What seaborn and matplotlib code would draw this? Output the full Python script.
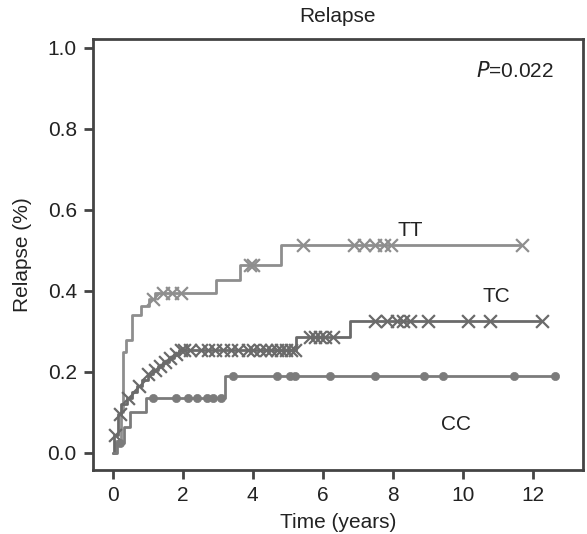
import numpy as np
import pandas as pd
import matplotlib
matplotlib.use('Agg')
import matplotlib.pyplot as plt
import seaborn as sns

sns.set_style('white')
plt.rcParams['font.family'] = ['Liberation Sans', 'DejaVu Sans']

# step curves (time in years, cumulative relapse)
tt_time = [0, 0.1, 0.25, 0.3, 0.39, 0.55, 0.8, 1.05, 1.2, 2.96, 3.63, 4.82, 11.7]
tt_val = [0, 0.03, 0.1, 0.25, 0.28, 0.34, 0.363, 0.38, 0.395, 0.427, 0.464, 0.514, 0.514]
tt_cens = [1.15, 1.43, 1.68, 1.96, 3.91, 4.0, 5.43, 6.9, 7.17, 7.5, 7.74, 7.94, 11.7]

tc_time = [0, 0.05, 0.15, 0.25, 0.4, 0.55, 0.7, 0.85, 1.0, 1.15, 1.3, 1.45, 1.6,
           1.75, 1.9, 5.24, 6.77, 12.26]
tc_val = [0, 0.045, 0.095, 0.12, 0.135, 0.15, 0.165, 0.18, 0.195, 0.205, 0.215,
          0.225, 0.235, 0.245, 0.255, 0.287, 0.325, 0.325]
tc_cens = [0.07, 0.2, 0.45, 0.75, 1.0, 1.2, 1.35, 1.5, 1.65, 1.8, 1.95, 2.05, 2.2,
           2.53, 2.71, 2.91, 3.14, 3.39, 3.57, 3.86, 4.0, 4.2, 4.39, 4.53, 4.68,
           4.82, 4.96, 5.1, 5.2, 5.63, 5.77, 5.91, 6.06, 6.3, 7.5, 7.84, 8.13,
           8.3, 8.5, 9.0, 10.15, 10.77, 12.26]

cc_time = [0, 0.12, 0.33, 0.48, 0.95, 3.2, 12.63]
cc_val = [0, 0.025, 0.065, 0.1, 0.135, 0.19, 0.19]
cc_cens = [0.2, 1.15, 1.82, 2.15, 2.4, 2.7, 2.86, 3.1, 3.43, 4.7, 5.05, 5.2, 6.2,
           7.5, 8.9, 9.43, 11.45, 12.63]

groups = ['TT', 'TC', 'CC']
colors = {'TT': '#8e8e8e', 'TC': '#6a6a6a', 'CC': '#7b7b7b'}


def step_at(times, vals, t):
    idx = np.searchsorted(times, t, side='right') - 1
    return np.asarray(vals)[idx]


curves = pd.concat([
    pd.DataFrame({'time': tt_time, 'val': tt_val, 'grp': 'TT'}),
    pd.DataFrame({'time': tc_time, 'val': tc_val, 'grp': 'TC'}),
    pd.DataFrame({'time': cc_time, 'val': cc_val, 'grp': 'CC'}),
])
cens = pd.concat([
    pd.DataFrame({'time': tt_cens, 'val': step_at(tt_time, tt_val, tt_cens), 'grp': 'TT'}),
    pd.DataFrame({'time': tc_cens, 'val': step_at(tc_time, tc_val, tc_cens), 'grp': 'TC'}),
    pd.DataFrame({'time': cc_cens, 'val': step_at(cc_time, cc_val, cc_cens), 'grp': 'CC'}),
])

fig = plt.figure(figsize=(5.87, 5.34), dpi=100)
ax = fig.add_axes([0.158, 0.12, 0.835, 0.807])

for g in groups:
    sns.lineplot(data=curves[curves.grp == g], x='time', y='val', ax=ax,
                 color=colors[g], lw=2, drawstyle='steps-post', legend=False,
                 estimator=None, sort=False)
for g in ['TT', 'TC']:
    sns.scatterplot(data=cens[cens.grp == g], x='time', y='val', ax=ax,
                    marker='x', s=85, linewidth=1.6, color=colors[g], legend=False, zorder=3)
sns.scatterplot(data=cens[cens.grp == 'CC'], x='time', y='val', ax=ax,
                marker='o', s=35, color=colors['CC'], edgecolor=colors['CC'],
                legend=False, zorder=3)

ax.set_xlim(-0.57, 13.43)
ax.set_ylim(-0.042, 1.022)
ax.set_xticks(range(0, 13, 2))
ax.set_yticks([0.0, 0.2, 0.4, 0.6, 0.8, 1.0])
ax.set_yticklabels(['0.0', '0.2', '0.4', '0.6', '0.8', '1.0'])
ax.tick_params(direction='out', length=6.5, width=2, color='#444444', pad=5,
               labelsize=15, labelcolor='#222222', bottom=True, left=True)
for sp in ax.spines.values():
    sp.set_color('#444444')
    sp.set_linewidth(2)

ax.set_xlabel('Time (years)', fontsize=15, color='#222222', labelpad=6)
ax.set_ylabel('Relapse (%)', fontsize=15, color='#222222', labelpad=11)
ax.set_title('Relapse', fontsize=15, color='#222222', pad=12)

ax.text(8.49, 0.55, 'TT', fontsize=15, ha='center', va='center', color='#222222')
ax.text(10.97, 0.385, 'TC', fontsize=15, ha='center', va='center', color='#222222')
ax.text(9.8, 0.069, 'CC', fontsize=15, ha='center', va='center', color='#222222')
ax.text(12.6, 0.943, r'$\it{P}$=0.022', fontsize=15, ha='right', va='center',
        color='#222222')

fig.savefig('out.png', dpi=100)
